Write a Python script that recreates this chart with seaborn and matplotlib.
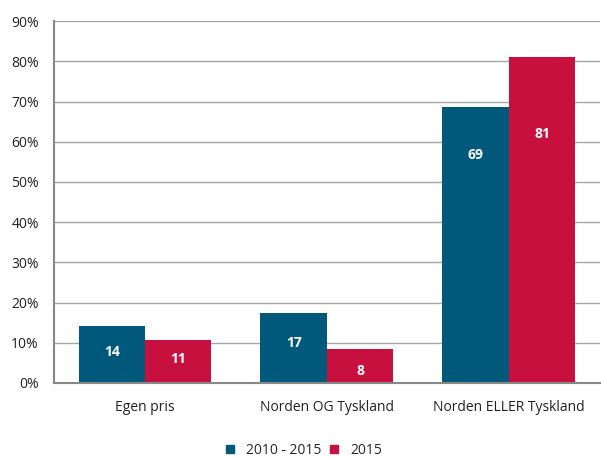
import matplotlib
matplotlib.use("Agg")
import matplotlib.pyplot as plt
import pandas as pd
import seaborn as sns
from matplotlib.lines import Line2D
from matplotlib.ticker import FixedLocator, PercentFormatter

kategorier = ["Egen pris", "Norden OG Tyskland", "Norden ELLER Tyskland"]
serier = ["2010 - 2015", "2015"]
verdier_2010_2015 = [14.1, 17.3, 68.7]
verdier_2015 = [10.7, 8.4, 81.1]
etiketter_2010_2015 = ["14", "17", "69"]
etiketter_2015 = ["11", "8", "81"]
farger = ["#00587a", "#c8103e"]

# hvor etikettene står i originalen (prosent-aksen)
etikett_y_2010_2015 = [7.7, 9.9, 56.7]
etikett_y_2015 = [6.0, 3.0, 61.9]

df = pd.DataFrame({
    "kategori": kategorier * 2,
    "serie": [serier[0]] * 3 + [serier[1]] * 3,
    "verdi": verdier_2010_2015 + verdier_2015,
})

sns.set_style("white")
plt.rcParams["font.family"] = ["Open Sans", "DejaVu Sans"]

fig = plt.figure(figsize=(6.01, 4.58), dpi=100)
ax = fig.add_axes([0.0899, 0.1638, 0.908, 0.790])

sns.barplot(data=df, x="kategori", y="verdi", hue="serie", order=kategorier,
            hue_order=serier, palette=farger, width=0.73, saturation=1,
            linewidth=0, legend=False, ax=ax)

for container, etiketter, ys in zip(ax.containers,
                                    [etiketter_2010_2015, etiketter_2015],
                                    [etikett_y_2010_2015, etikett_y_2015]):
    for bar, tekst, y in zip(container.patches, etiketter, ys):
        ax.text(bar.get_x() + bar.get_width() / 2, y, tekst, ha="center", va="center",
                color="white", fontsize=10, fontweight="bold")

ax.set_ylim(0, 90)
ax.set_xlim(-0.5, 2.5)
ax.set_yticks(range(0, 91, 10))
ax.yaxis.set_major_formatter(PercentFormatter(decimals=0))
ax.yaxis.grid(True, color="#a6a6a6", linewidth=1)
ax.set_axisbelow(True)
ax.set_xlabel("")
ax.set_ylabel("")

ax.xaxis.set_minor_locator(FixedLocator([-0.5, 0.5, 1.5, 2.5]))
ax.tick_params(axis="x", which="major", length=0, pad=12, labelsize=10, colors="#222222")
ax.tick_params(axis="x", which="minor", length=5, width=1, color="#888888", direction="out")
ax.tick_params(axis="y", length=5, width=1, color="#888888", direction="out",
               labelsize=10, labelcolor="#222222", pad=6)

for side in ["top", "right"]:
    ax.spines[side].set_visible(False)
for side in ["left", "bottom"]:
    ax.spines[side].set_color("#888888")
    ax.spines[side].set_linewidth(1.5)

handles = [Line2D([], [], marker="s", linestyle="", markersize=6, color=c) for c in farger]
fig.legend(handles, serier, loc="center", bbox_to_anchor=(0.503, 0.017), ncol=2,
           frameon=False, fontsize=10, handlelength=1.0, handletextpad=0.65,
           columnspacing=0.45)

plt.savefig("out.png", dpi=100)
plt.close()
